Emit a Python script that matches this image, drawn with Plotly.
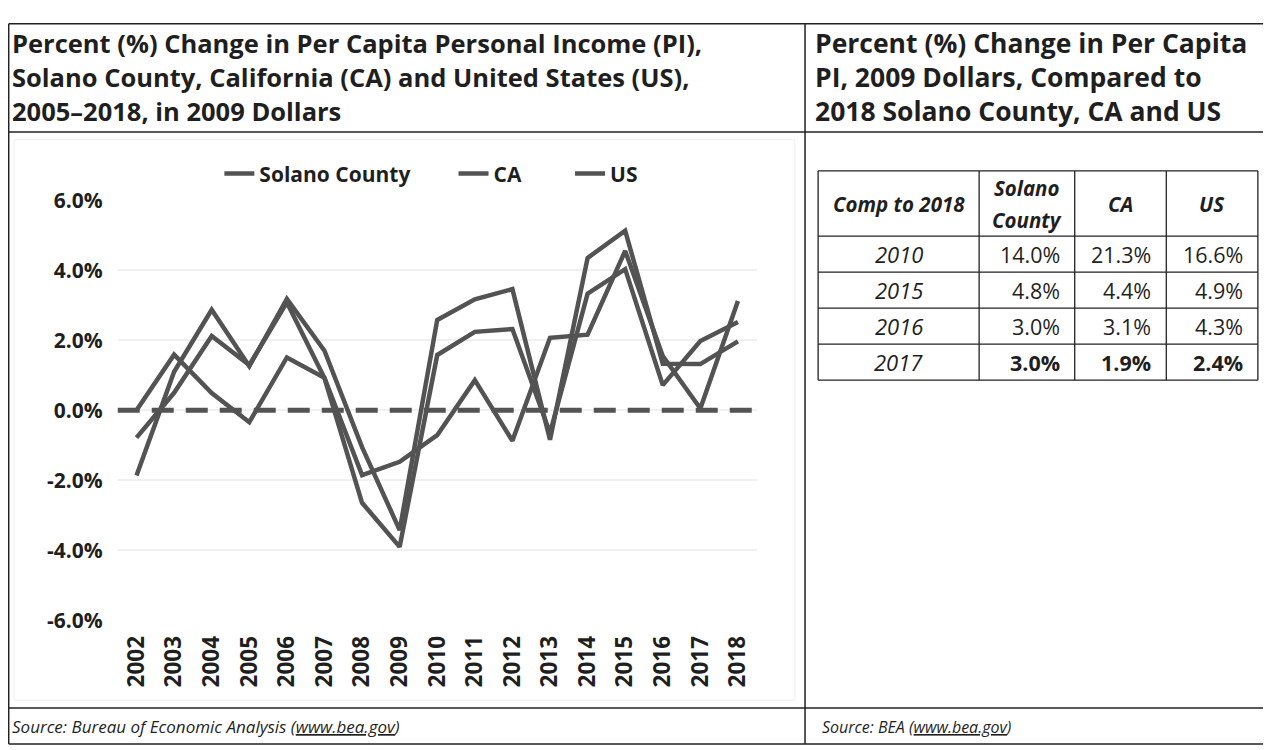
import plotly.graph_objects as go

W, H = 1271, 750

# ---------------- data ----------------
years = [str(y) for y in range(2002, 2019)]
solano = [0.0, 1.59, 0.49, -0.34, 1.51, 0.93, -1.85, -1.47, -0.71, 0.86, -0.87, 2.07, 2.16, 4.55, 1.55, 0.05, 3.12]
ca = [-1.86, 1.10, 2.87, 1.26, 3.18, 1.70, -1.05, -3.42, 2.58, 3.17, 3.46, -0.84, 4.35, 5.13, 1.33, 1.32, 1.97]
us = [-0.78, 0.50, 2.12, 1.29, 3.08, 0.92, -2.64, -3.90, 1.58, 2.24, 2.32, -0.65, 3.33, 4.03, 0.72, 1.98, 2.52]
series_names = ["Solano County", "CA", "US"]

y_ticks = [-6, -4, -2, 0, 2, 4, 6]
y_tick_labels = ["-6.0%", "-4.0%", "-2.0%", "0.0%", "2.0%", "4.0%", "6.0%"]

left_title = ["Percent (%) Change in Per Capita Personal Income (PI),",
              "Solano County, California (CA) and United States (US),",
              "2005\u20132018, in 2009 Dollars"]
right_title = ["Percent (%) Change in Per Capita",
               "PI, 2009 Dollars, Compared to",
               "2018 Solano County, CA and US"]

table_header = ["Comp to 2018", "Solano|County", "CA", "US"]
table_years = ["2010", "2015", "2016", "2017"]
table_solano = ["14.0%", "4.8%", "3.0%", "3.0%"]
table_ca = ["21.3%", "4.4%", "3.1%", "1.9%"]
table_us = ["16.6%", "4.9%", "4.3%", "2.4%"]

left_source = "Source: Bureau of Economic Analysis (<u>www.bea.gov</u>)"
right_source = "Source: BEA (<u>www.bea.gov</u>)"

# ---------------- helpers ----------------
# page offset compensation (reference pixel -> figure pixel)
def fx(x):
    return min(max(x * 1279.0 / 1271.0 - 8, 0.7), W - 0.7)

def fy(y):
    return min(max(y * 758.0 / 750.0 - 8, 0.7), H - 0.7)

def px(x):
    return fx(x) / W

def py(y):
    return 1 - fy(y) / H

FONT = "Open Sans"
TXT = "#1f1f1f"
LINE = "#535353"
NB = "\u00a0"
legend_pad = [NB * 7, NB * 8, ""]

fig = go.Figure()
for name, vals, pad in zip(series_names, [solano, ca, us], legend_pad):
    fig.add_trace(go.Scatter(x=years, y=vals, mode="lines", name=name + pad,
                             line=dict(color=LINE, width=4.5)))

shapes = []
annotations = []

# zero dashed line
shapes.append(dict(type="line", xref="x domain", yref="y", x0=0, x1=1, y0=0, y1=0,
                   line=dict(color=LINE, width=5, dash="22px,12px"), layer="above"))

# frame lines
def hline(y, x0, x1, w=1.5, c="#222"):
    shapes.append(dict(type="line", xref="paper", yref="paper", x0=px(x0), x1=px(x1),
                       y0=py(y), y1=py(y), line=dict(color=c, width=w)))

def vline(x, y0, y1, w=1.5, c="#222"):
    shapes.append(dict(type="line", xref="paper", yref="paper", x0=px(x), x1=px(x),
                       y0=py(y0), y1=py(y1), line=dict(color=c, width=w)))

hline(1, 1, 1270)
hline(120, 1, 1270)
hline(712, 1, 1270)
hline(749, 1, 1270)
vline(3, 1, 749)
vline(800, 1, 749)
vline(1268, 1, 749)

# faint chart area outline
shapes.append(dict(type="rect", xref="paper", yref="paper", x0=px(14), x1=px(790),
                   y0=py(704), y1=py(128), line=dict(color="#ededed", width=1)))

# titles
for i, t in enumerate(left_title):
    annotations.append(dict(text="<b>%s</b>" % t, x=px(10), y=py(28 + 35 * i), xref="paper", yref="paper",
                            xanchor="left", yanchor="middle", showarrow=False,
                            font=dict(family=FONT, size=25.5, color=TXT)))
for i, t in enumerate(right_title):
    annotations.append(dict(text="<b>%s</b>" % t, x=px(808), y=py(28 + 35 * i), xref="paper", yref="paper",
                            xanchor="left", yanchor="middle", showarrow=False,
                            font=dict(family=FONT, size=26.5, color=TXT)))

# sources
annotations.append(dict(text="<i>%s</i>" % left_source, x=px(10), y=py(731), xref="paper", yref="paper",
                        xanchor="left", yanchor="middle", showarrow=False,
                        font=dict(family=FONT, size=17, color=TXT)))
annotations.append(dict(text="<i>%s</i>" % right_source, x=px(815), y=py(731), xref="paper", yref="paper",
                        xanchor="left", yanchor="middle", showarrow=False,
                        font=dict(family=FONT, size=16, color=TXT)))

# table
col_x = [813, 973, 1068, 1159, 1250]
row_y = [160, 227, 264, 301, 338, 375]
for x in col_x:
    vline(x, row_y[0], row_y[-1], w=1.3)
for y in row_y:
    hline(y, col_x[0], col_x[-1], w=1.3)

for j, h in enumerate(table_header):
    cx = (col_x[j] + col_x[j + 1]) / 2
    parts = h.split("|")
    cy0 = (row_y[0] + row_y[1]) / 2
    offs = [0] if len(parts) == 1 else [-16.5, 16.5]
    for p, o in zip(parts, offs):
        annotations.append(dict(text="<b><i>%s</i></b>" % p, x=px(cx), y=py(cy0 + o), xref="paper", yref="paper",
                                xanchor="center", yanchor="middle", showarrow=False,
                                font=dict(family=FONT, size=20.5, color=TXT)))

for i in range(len(table_years)):
    cy = (row_y[i + 1] + row_y[i + 2]) / 2
    last = i == len(table_years) - 1
    annotations.append(dict(text="<i>%s</i>" % table_years[i], x=px((col_x[0] + col_x[1]) / 2), y=py(cy),
                            xref="paper", yref="paper", xanchor="center", yanchor="middle", showarrow=False,
                            font=dict(family=FONT, size=22, color=TXT)))
    for j, col in enumerate([table_solano, table_ca, table_us]):
        v = col[i]
        txt = "<b>%s</b>" % v if last else v
        annotations.append(dict(text=txt, x=px(col_x[j + 2] - 13), y=py(cy), xref="paper", yref="paper",
                                xanchor="right", yanchor="middle", showarrow=False,
                                font=dict(family=FONT, size=21.5, color=TXT)))

fig.update_layout(
    width=W, height=H,
    margin=dict(l=0, r=0, t=0, b=0),
    paper_bgcolor="white", plot_bgcolor="white",
    font=dict(family=FONT, color=TXT),
    showlegend=True,
    legend=dict(orientation="h", x=px(218), y=py(163), xanchor="left", yanchor="middle",
                font=dict(family=FONT, size=21, color=TXT, weight="bold"), itemwidth=30,
                bgcolor="rgba(0,0,0,0)", traceorder="normal"),
    xaxis=dict(domain=[px(117), px(752)], type="category", range=[-0.5, 16.5],
               tickangle=-90, showgrid=False, zeroline=False, showline=False, ticks="",
               tickfont=dict(family=FONT, size=22.5, color=TXT, weight="bold"),
               ticklabelstandoff=10),
    yaxis=dict(domain=[py(622), py(190)], range=[-6, 6], tickvals=y_ticks, ticktext=y_tick_labels,
               showgrid=True, gridcolor="#f0f0f0", gridwidth=1.5, zeroline=False, showline=False, ticks="",
               tickfont=dict(family=FONT, size=21, color=TXT, weight="bold"),
               ticklabelstandoff=14),
    shapes=shapes,
    annotations=annotations,
)

fig.write_html("out.html")
